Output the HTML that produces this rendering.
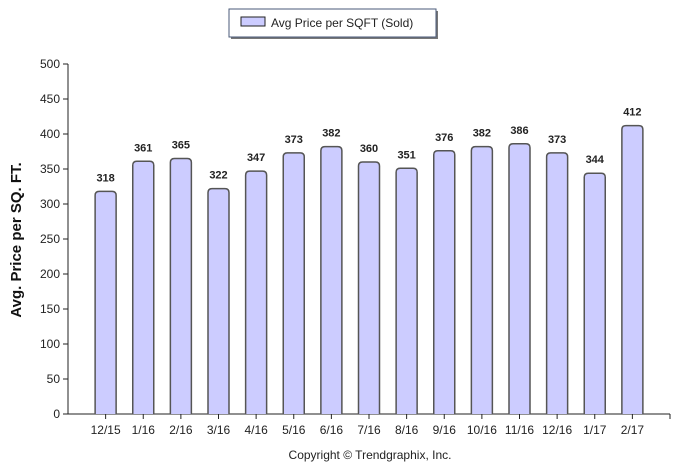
<!DOCTYPE html>
<html><head><meta charset="utf-8"><style>
body{margin:0;background:#fff;}
svg{display:block;font-family:"Liberation Sans",sans-serif;}
</style></head><body>
<svg id="c" width="688" height="472">
<g>
<rect x="231" y="11" width="207" height="28" fill="#777"/>
<rect x="229" y="9" width="207" height="28" fill="#fff" stroke="#4a5a78" stroke-width="1"/>
<rect x="241" y="17" width="24" height="9" fill="#ccccff" stroke="#222"/>
<text x="271" y="27" font-size="12" fill="#222">Avg Price per SQFT (Sold)</text>
</g>
<text transform="translate(21,240) rotate(-90)" text-anchor="middle" font-size="15" font-weight="bold" fill="#111">Avg. Price per SQ. FT.</text>
<text x="370" y="459" text-anchor="middle" font-size="12" fill="#222">Copyright © Trendgraphix, Inc.</text>
<g id="plot"></g>
</svg>
<script>
const categories=["12/15","1/16","2/16","3/16","4/16","5/16","6/16","7/16","8/16","9/16","10/16","11/16","12/16","1/17","2/17"];
const values=[318,361,365,322,347,373,382,360,351,376,382,386,373,344,412];
const yTicks=[0,50,100,150,200,250,300,350,400,450,500];
const X0=68,X1=670,Y0=414,Y1=64,YMAX=500;
const slot=(X1-X0)/(categories.length+1);
const x=i=>X0+slot*(i+1);
const y=v=>Y0-(v/YMAX)*(Y0-Y1);
const ns="http://www.w3.org/2000/svg";
const g=document.getElementById('plot');
function mk(t,a){const e=document.createElementNS(ns,t);for(const k in a)e.setAttribute(k,a[k]);g.appendChild(e);return e;}
let e=mk('line',{x1:X0,y1:Y1,x2:X0,y2:Y0,stroke:'#222'});


e=mk('line',{x1:X0,y1:Y0,x2:X1,y2:Y0,stroke:'#222'});


e=mk('line',{x1:X1,y1:Y0,x2:X1,y2:Y0+5,stroke:'#222'});


yTicks.forEach(v=>{
  let t=mk('line',{x1:X0-5,y1:y(v),x2:X0,y2:y(v),stroke:'#222'});
  
  
  let l=mk('text',{x:X0-8,y:y(v)+4,'text-anchor':'end','font-size':12,fill:'#222'});
  l.textContent=v;
  
  
});
const bw=21,r=4;
categories.forEach((c,i)=>{
  const cx=x(i),top=y(values[i]),l=cx-bw/2;
  let b=mk('path',{d:`M${l},${Y0} V${top+r} Q${l},${top} ${l+r},${top} H${l+bw-r} Q${l+bw},${top} ${l+bw},${top+r} V${Y0}`,fill:'#ccccff',stroke:'#555','stroke-width':1.5});
  
  
  let t=mk('line',{x1:cx,y1:Y0,x2:cx,y2:Y0+5,stroke:'#222'});
  
  
  let xl=mk('text',{x:cx,y:Y0+20,'text-anchor':'middle','font-size':12,fill:'#222'});
  xl.textContent=c;
  
  
  let vl=mk('text',{x:cx,y:top-10,'text-anchor':'middle','font-size':11,'font-weight':'bold',fill:'#222'});
  vl.textContent=values[i];
  
  
});
</script>
</body></html>
